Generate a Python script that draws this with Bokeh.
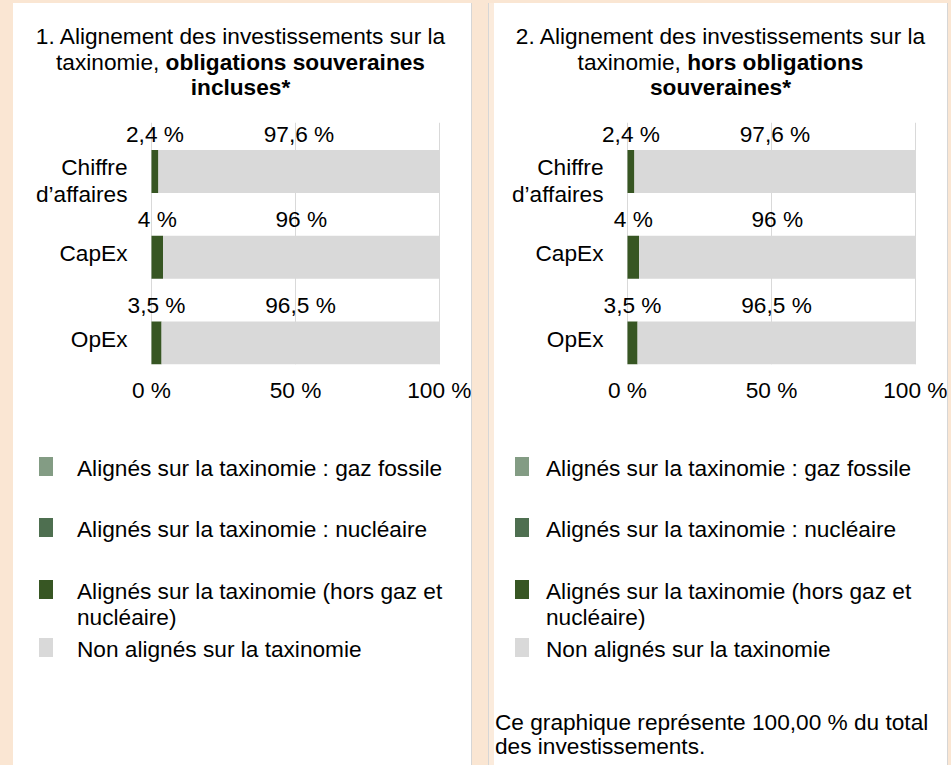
from bokeh.plotting import figure
from bokeh.models import ColumnDataSource, Range1d, FixedTicker, Div, Spacer, LabelSet
from bokeh.layouts import row, column
from bokeh.core.properties import value
from bokeh.embed import file_html
from bokeh.resources import INLINE

# ---------------- data ----------------
categories = ["Chiffre\nd’affaires", "CapEx", "OpEx"]
gaz_fossile = [0.0, 0.0, 0.0]
nucleaire = [0.0, 0.0, 0.0]
alignes_hors_gaz_nucleaire = [2.4, 4.0, 3.5]
non_alignes = [97.6, 96.0, 96.5]

x_ticks = [0, 50, 100]
x_tick_labels = ["0 %", "50 %", "100 %"]

series_names = [
    "Alignés sur la taxinomie : gaz fossile",
    "Alignés sur la taxinomie : nucléaire",
    "Alignés sur la taxinomie (hors gaz et<br>nucléaire)",
    "Non alignés sur la taxinomie",
]
series_colors = ["#839C84", "#4E6F50", "#375623", "#D9D9D9"]

title_left = "1. Alignement des investissements sur la<br>taxinomie, <b>obligations souveraines</b><br><b>incluses*</b>"
title_right = "2. Alignement des investissements sur la<br>taxinomie, <b>hors obligations</b><br><b>souveraines*</b>"
note_right = "Ce graphique représente 100,00 % du total<br>des investissements."

# ---------------- style ----------------
FONT = "Liberation Sans"
FS = "22.67px"
BEIGE = "#FAE6D3"
LIGHT_BEIGE = "#FBEBDC"
BORDER = "#D6D6D6"
GRID = "#D9D9D9"
BAR_H = 0.5
PLOT_PX = 288.0   # pixel width of the 0..100 % span
LINE_PX = 26.5    # line spacing of multi-line category labels


def fr(v):
    return f"{v:g}".replace(".", ",") + " %"


pos = [len(categories) - 1 - i for i in range(len(categories))]


def make_chart(width, zero_px):
    per_px = 100.0 / PLOT_PX
    x_start = -zero_px * per_px
    x_end = x_start + width * per_px
    src = ColumnDataSource(dict(pos=pos, gaz=gaz_fossile, nuc=nucleaire,
                                ali=alignes_hors_gaz_nucleaire, non=non_alignes))
    p = figure(width=width, height=319, x_range=Range1d(x_start, x_end),
               y_range=Range1d(-0.25, 2.571), output_backend="svg",
               toolbar_location=None, min_border_left=0, min_border_right=0,
               min_border_top=19, min_border_bottom=58,
               outline_line_color=None, background_fill_color="white",
               border_fill_color="white")
    p.hbar_stack(["gaz", "nuc", "ali", "non"], y="pos", height=BAR_H,
                 fill_color=series_colors, line_color=None, source=src)

    # data labels (only segments of non-zero series)
    lx, ly, lt = [], [], []
    for g, n, a, na, yp in zip(gaz_fossile, nucleaire, alignes_hors_gaz_nucleaire, non_alignes, pos):
        base = g + n
        lx.append(base + a / 2)
        ly.append(yp + BAR_H / 2)
        lt.append(fr(a))
        lx.append(base + a + na / 2)
        ly.append(yp + BAR_H / 2)
        lt.append(fr(na))
    lsrc = ColumnDataSource(dict(x=lx, y=ly, t=lt))
    p.add_layout(LabelSet(x="x", y="y", text="t", source=lsrc, text_align="center",
                          text_baseline="middle", y_offset=16.5,
                          text_font=value(FONT), text_font_size=FS, text_color="#000000"))

    # category labels (each line right aligned)
    cx, cy, ct, coff = [], [], [], []
    for cat, yp in zip(categories, pos):
        for j, line in enumerate(cat.split("\n")):
            cx.append(x_ticks[0])
            cy.append(yp)
            ct.append(line)
            coff.append(17 - j * LINE_PX)
    csrc = ColumnDataSource(dict(x=cx, y=cy, t=ct, off=coff))
    p.add_layout(LabelSet(x="x", y="y", text="t", source=csrc, text_align="right",
                          text_baseline="top", x_offset=-24, y_offset="off",
                          text_font=value(FONT), text_font_size=FS, text_color="#000000"))
    p.yaxis.visible = False

    p.xaxis.ticker = FixedTicker(ticks=x_ticks)
    p.xaxis.major_label_overrides = dict(zip(x_ticks, x_tick_labels))
    ax = p.xaxis[0]
    ax.axis_line_color = None
    ax.major_tick_line_color = None
    ax.minor_tick_line_color = None
    ax.major_tick_out = 0
    ax.major_tick_in = 0
    ax.major_label_text_font = FONT
    ax.major_label_text_font_size = FS
    ax.major_label_text_color = "#000000"
    ax.major_label_standoff = 12
    p.xgrid.ticker = FixedTicker(ticks=x_ticks)
    p.xgrid.grid_line_color = GRID
    p.ygrid.grid_line_color = None
    return p


def title_div(html, width, inner_w):
    return Div(text=f'<div style="width:{inner_w}px;padding-top:21px;text-align:center;'
                    f'font-family:\'{FONT}\',Arial,sans-serif;font-size:{FS};line-height:25.5px;'
                    f'color:#000;white-space:nowrap;">{html}</div>',
               width=width, height=100, margin=0, styles={"background-color": "white"})


def legend_div(width, sw_left, txt_left, note=None):
    tops = [34, 95, 157, 215]
    items = ""
    for name, col, t in zip(series_names, series_colors, tops):
        items += (f'<div style="position:absolute;left:{sw_left}px;top:{t + 1}px;width:14px;height:19px;'
                  f'background:{col};"></div>'
                  f'<div style="position:absolute;left:{txt_left}px;top:{t}px;white-space:nowrap;">{name}</div>')
    if note:
        items += (f'<div style="position:absolute;left:1px;top:288px;white-space:nowrap;'
                  f'line-height:24px;">{note}</div>')
    html = (f'<div style="position:relative;width:{width}px;height:343px;font-family:\'{FONT}\',Arial,sans-serif;'
            f'font-size:{FS};line-height:25.5px;color:#000;">{items}</div>')
    return Div(text=html, width=width, height=343, margin=0, styles={"background-color": "white"})


def vline(color, w=1):
    return Div(text="", width=w, height=762, margin=0, styles={"background-color": color})


LW, RW = 458, 453
left_panel = column(title_div(title_left, LW, 455), make_chart(LW, 138), legend_div(LW, 26, 64),
                    width=LW, height=762, styles={"background-color": "white"})
right_panel = column(title_div(title_right, RW, RW), make_chart(RW, 133), legend_div(RW, 21, 52, note_right),
                     width=RW, height=762, styles={"background-color": "white"})

body = row(Spacer(width=13, height=762), left_panel, vline(BORDER), Spacer(width=16, height=762),
           vline(BORDER), vline(LIGHT_BEIGE, 5), right_panel, vline(BORDER),
           width=951, height=762)
root = column(Spacer(width=951, height=3), body, width=951, height=765,
              styles={"background-color": BEIGE})

open("out.html", "w").write(file_html(root, INLINE))
